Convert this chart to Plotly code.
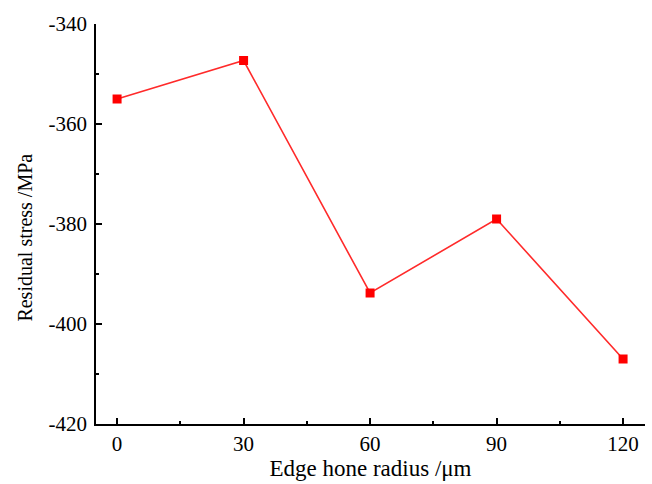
import plotly.graph_objects as go

radius = [0, 30, 60, 90, 120]
stress = [-355.0, -347.3, -393.8, -379.0, -407.0]
x_ticks = [0, 30, 60, 90, 120]
y_ticks = [-420, -400, -380, -360, -340]

font = "Liberation Serif"

fig = go.Figure()
fig.add_trace(go.Scatter(
    x=radius, y=stress, mode="lines+markers",
    line=dict(color="#ff2a2a", width=1.6),
    marker=dict(symbol="square", size=9, color="#ff0000"),
    showlegend=False,
))

fig.update_layout(
    width=652, height=484,
    margin=dict(l=96, r=7, t=24, b=60),
    paper_bgcolor="white", plot_bgcolor="white",
    font=dict(family=font, size=21, color="black"),
)
fig.update_xaxes(
    range=[-5, 125.2], tickvals=x_ticks, ticktext=[str(v) for v in x_ticks],
    showline=True, linecolor="black", linewidth=1.5,
    ticks="inside", ticklen=6, tickwidth=1.5, tickcolor="black",
    minor=dict(ticks="inside", ticklen=3, tickwidth=1.5, tickcolor="black", dtick=15, tick0=0),
    showgrid=False, zeroline=False,
    title=dict(text="Edge hone radius /μm", font=dict(family=font, size=23), standoff=4),
    tickfont=dict(family=font, size=21),
)
fig.update_yaxes(
    range=[-420, -340], tickvals=y_ticks, ticktext=[str(v) for v in y_ticks],
    showline=True, linecolor="black", linewidth=1.5,
    ticks="inside", ticklen=6, tickwidth=1.5, tickcolor="black",
    minor=dict(ticks="inside", ticklen=3, tickwidth=1.5, tickcolor="black", dtick=10, tick0=-420),
    showgrid=False, zeroline=False,
    ticklabelstandoff=3,
    tickfont=dict(family=font, size=21),
)
fig.add_annotation(
    text="Residual stress /MPa", textangle=-90,
    xref="paper", yref="paper", x=(25 - 96) / 546, y=(424 - 238) / 400,
    xanchor="center", yanchor="middle", showarrow=False,
    font=dict(family=font, size=20, color="black"),
)

fig.write_html("out.html")
